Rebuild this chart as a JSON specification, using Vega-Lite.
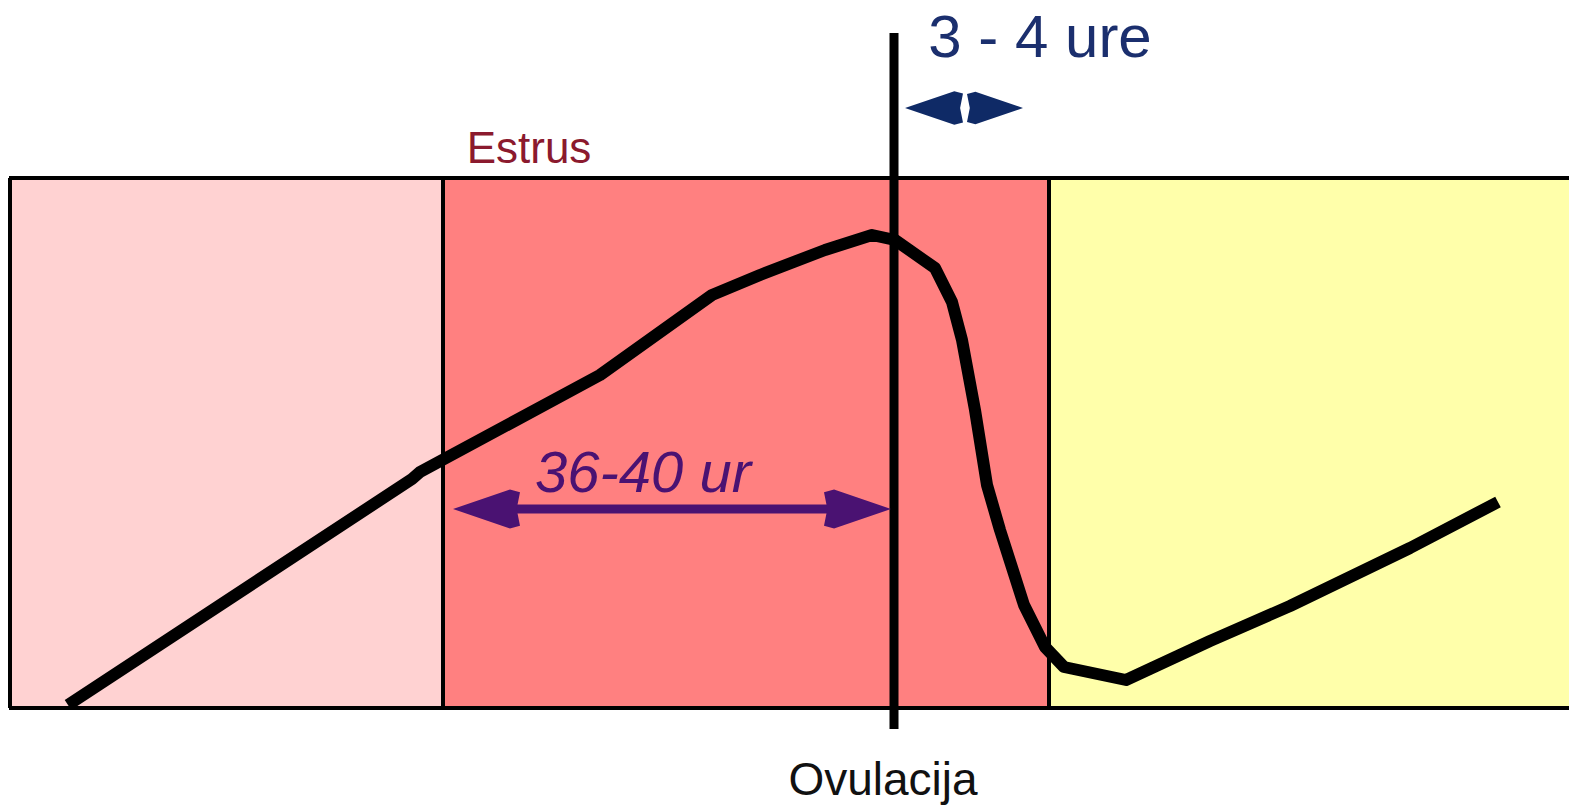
{
  "$schema": "https://vega.github.io/schema/vega-lite/v6.json",
  "width": 1569,
  "height": 807,
  "autosize": {"type": "fit", "contains": "padding"},
  "padding": 0,
  "background": "white",
  "config": {"view": {"stroke": null}},
  "datasets": {
    "zones": [
      {"zone": "proestrus", "x1": 10, "x2": 443, "y1": 178, "y2": 708},
      {"zone": "estrus", "x1": 443, "x2": 1049, "y1": 178, "y2": 708},
      {"zone": "metestrus", "x1": 1049, "x2": 1569, "y1": 178, "y2": 708}
    ],
    "borders": [
      {"x1": 9, "x2": 1569, "y1": 178, "y2": 178},
      {"x1": 9, "x2": 1569, "y1": 708, "y2": 708},
      {"x1": 10, "x2": 10, "y1": 178, "y2": 708},
      {"x1": 443, "x2": 443, "y1": 178, "y2": 708},
      {"x1": 1049, "x2": 1049, "y1": 178, "y2": 708}
    ],
    "curve": [
      {"t": 0, "x": 68, "y": 705},
      {"t": 1, "x": 412, "y": 479},
      {"t": 2, "x": 420, "y": 472},
      {"t": 3, "x": 600, "y": 375},
      {"t": 4, "x": 712, "y": 295},
      {"t": 5, "x": 760, "y": 275},
      {"t": 6, "x": 825, "y": 250},
      {"t": 7, "x": 872, "y": 235},
      {"t": 8, "x": 895, "y": 240},
      {"t": 9, "x": 935, "y": 268},
      {"t": 10, "x": 952, "y": 302},
      {"t": 11, "x": 962, "y": 340},
      {"t": 12, "x": 975, "y": 410},
      {"t": 13, "x": 987, "y": 485},
      {"t": 14, "x": 1000, "y": 530},
      {"t": 15, "x": 1024, "y": 605},
      {"t": 16, "x": 1045, "y": 647},
      {"t": 17, "x": 1064, "y": 667},
      {"t": 18, "x": 1126, "y": 680},
      {"t": 19, "x": 1210, "y": 641},
      {"t": 20, "x": 1290, "y": 606},
      {"t": 21, "x": 1410, "y": 548},
      {"t": 22, "x": 1498, "y": 502}
    ],
    "heads": [
      {"dir": "left", "x": 453, "y": 509, "s": 4489, "c": "#4a1272"},
      {"dir": "right", "x": 891, "y": 509, "s": 4489, "c": "#4a1272"},
      {"dir": "left", "x": 905, "y": 108, "s": 3364, "c": "#0f2a66"},
      {"dir": "right", "x": 1023, "y": 108, "s": 3136, "c": "#0f2a66"}
    ],
    "labels": [
      {"text": "Estrus", "x": 529, "y": 163, "c": "#8b1a2e", "s": 44},
      {"text": "3 - 4 ure", "x": 1040, "y": 57, "c": "#1b2f6e", "s": 60},
      {"text": "Ovulacija", "x": 883, "y": 795, "c": "#111111", "s": 46}
    ],
    "italic": [
      {"text": "36-40 ur", "x": 643, "y": 492, "c": "#4a1272", "s": 58}
    ]
  },
  "layer": [
    {
      "data": {"name": "zones"},
      "mark": {"type": "rect", "clip": true},
      "encoding": {
        "x": {"field": "x1", "type": "quantitative", "scale": {"domain": [0, 1569], "nice": false, "zero": false}, "axis": null},
        "x2": {"field": "x2"},
        "y": {"field": "y1", "type": "quantitative", "scale": {"domain": [0, 807], "nice": false, "zero": false, "reverse": true}, "axis": null},
        "y2": {"field": "y2"},
        "color": {"field": "zone", "type": "nominal", "scale": {"domain": ["proestrus", "estrus", "metestrus"], "range": ["#ffd2d2", "#ff8080", "#ffffaa"]}, "legend": null}
      }
    },
    {
      "data": {"name": "borders"},
      "mark": {"type": "rule", "color": "#000000", "strokeWidth": 4, "clip": true},
      "encoding": {
        "x": {"field": "x1", "type": "quantitative"},
        "x2": {"field": "x2"},
        "y": {"field": "y1", "type": "quantitative"},
        "y2": {"field": "y2"}
      }
    },
    {
      "data": {"name": "curve"},
      "mark": {"type": "line", "color": "#000000", "strokeWidth": 12, "strokeJoin": "round", "strokeCap": "butt"},
      "encoding": {
        "x": {"field": "x", "type": "quantitative"},
        "y": {"field": "y", "type": "quantitative"},
        "order": {"field": "t", "type": "quantitative"}
      }
    },
    {
      "data": {"values": [{"x": 894, "y1": 33, "y2": 729}]},
      "mark": {"type": "rule", "color": "#000000", "strokeWidth": 9},
      "encoding": {
        "x": {"field": "x", "type": "quantitative"},
        "y": {"field": "y1", "type": "quantitative"},
        "y2": {"field": "y2"}
      }
    },
    {
      "data": {"values": [{"x1": 510, "x2": 840, "y": 509}]},
      "mark": {"type": "rule", "color": "#4a1272", "strokeWidth": 9},
      "encoding": {
        "x": {"field": "x1", "type": "quantitative"},
        "x2": {"field": "x2"},
        "y": {"field": "y", "type": "quantitative"}
      }
    },
    {
      "data": {"name": "heads"},
      "mark": {"type": "point", "filled": true, "opacity": 1, "strokeWidth": 0},
      "encoding": {
        "x": {"field": "x", "type": "quantitative"},
        "y": {"field": "y", "type": "quantitative"},
        "shape": {"field": "dir", "type": "nominal", "scale": {"domain": ["left", "right"], "range": ["M 0 0 L 1.7 -0.58 L 2 -0.5 L 1.9 0 L 2 0.5 L 1.7 0.58 Z", "M 0 0 L -1.7 -0.58 L -2 -0.5 L -1.9 0 L -2 0.5 L -1.7 0.58 Z"]}, "legend": null},
        "size": {"field": "s", "type": "quantitative", "scale": null},
        "color": {"field": "c", "type": "nominal", "scale": null}
      }
    },
    {
      "data": {"name": "labels"},
      "mark": {"type": "text", "font": "Liberation Sans", "baseline": "alphabetic", "align": "center"},
      "encoding": {
        "x": {"field": "x", "type": "quantitative"},
        "y": {"field": "y", "type": "quantitative"},
        "text": {"field": "text"},
        "color": {"field": "c", "type": "nominal", "scale": null},
        "size": {"field": "s", "type": "quantitative", "scale": null}
      }
    },
    {
      "data": {"name": "italic"},
      "mark": {"type": "text", "font": "Liberation Sans", "fontStyle": "italic", "baseline": "alphabetic", "align": "center"},
      "encoding": {
        "x": {"field": "x", "type": "quantitative"},
        "y": {"field": "y", "type": "quantitative"},
        "text": {"field": "text"},
        "color": {"field": "c", "type": "nominal", "scale": null},
        "size": {"field": "s", "type": "quantitative", "scale": null}
      }
    }
  ]
}
